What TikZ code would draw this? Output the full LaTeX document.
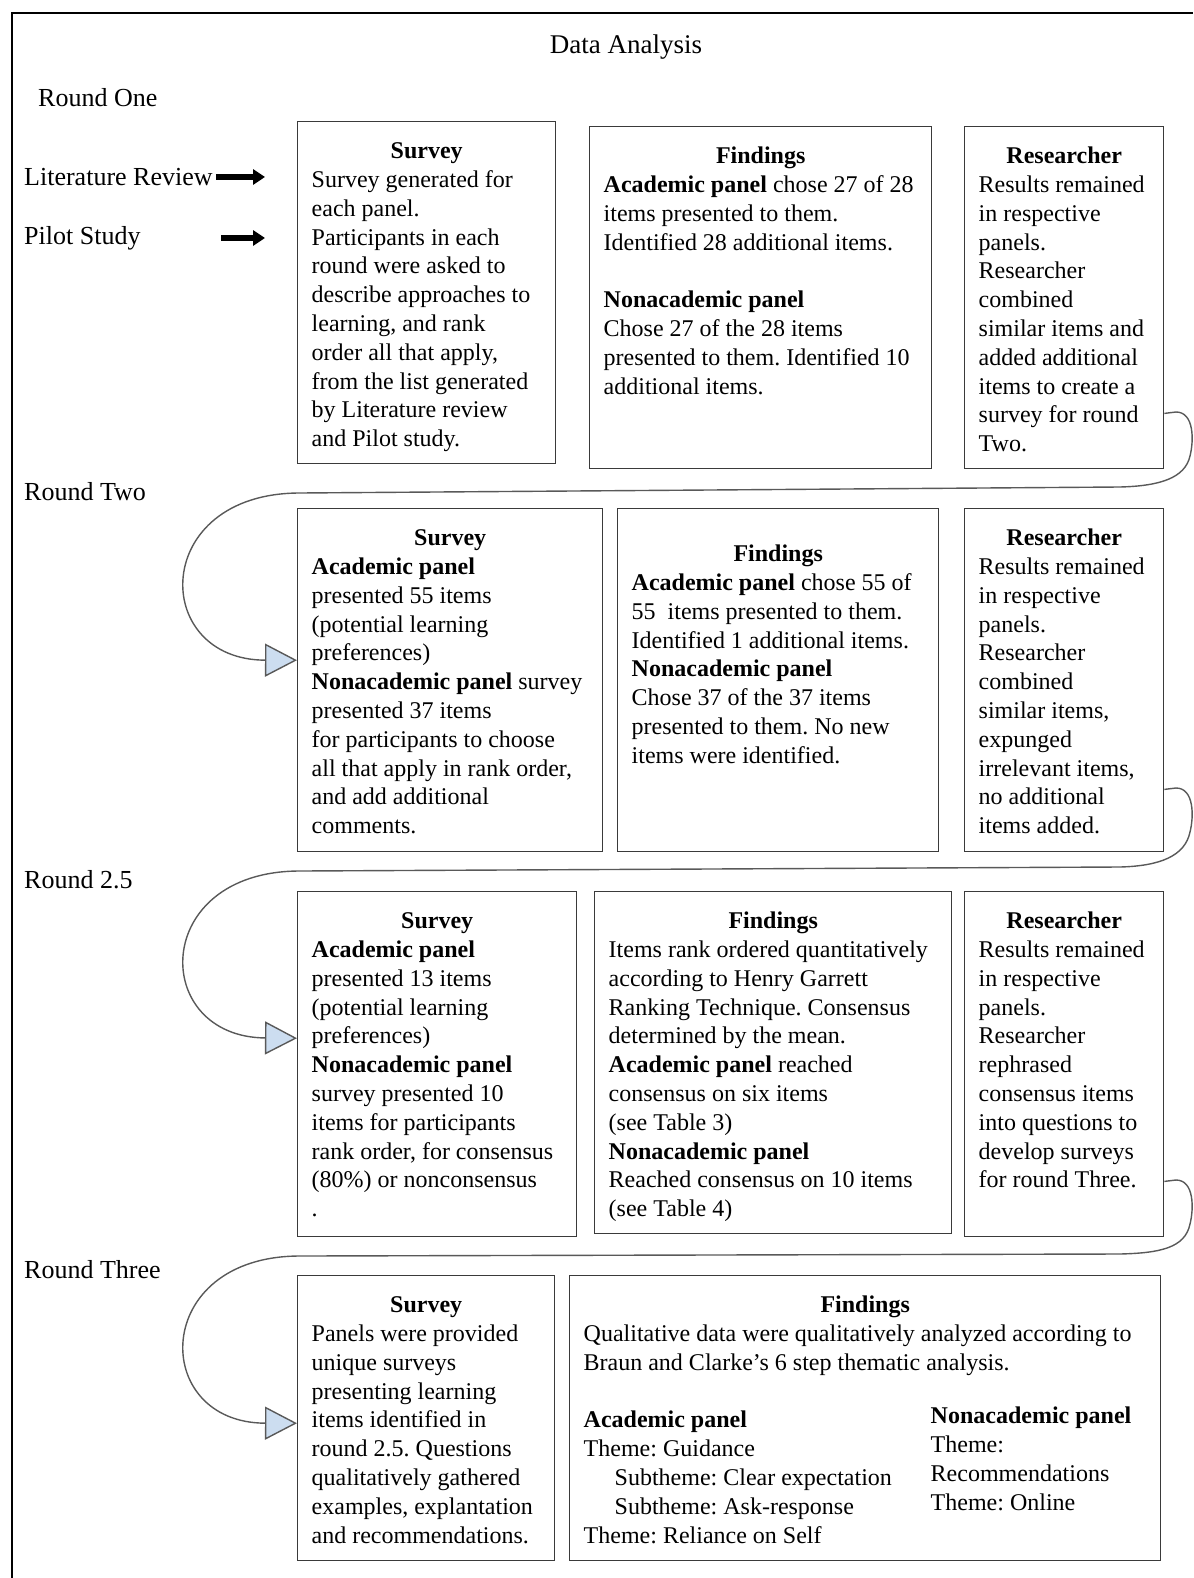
\documentclass[tikz,border=0pt]{standalone}
\usepackage{fontspec}
\setmainfont{Liberation Serif}
\usetikzlibrary{arrows.meta}
\frenchspacing

\definecolor{boxgray}{HTML}{3A3A3A}
\definecolor{linkgray}{HTML}{595959}
\definecolor{tipblue}{HTML}{CCDDF0}

\newcommand{\stagetext}[5][37pt]{%
    \parbox[t][#3][t]{#2}{\fontsize{24}{28.8}\selectfont
        \centering\rule{0pt}{#1}\textbf{#4}\par
        \raggedright\hspace*{14pt}\begin{tabular}[t]{@{}l@{}}#5\end{tabular}}}

\tikzset{
    stage/.style={draw=boxgray, line width=1.4pt, fill=white, inner sep=0pt, anchor=north west},
    link/.style={draw=linkgray, line width=1.4pt, -{Triangle[length=32pt,width=33pt,fill=tipblue]}},
    feed/.style={line width=5.5pt, -{Triangle[length=12pt,width=15pt]}},
    roundlbl/.style={anchor=west, inner sep=0pt, font=\fontsize{26}{30}\selectfont},
}

\begin{document}
\begin{tikzpicture}[x=1pt,y=-1pt]
    \useasboundingbox (0,0) rectangle (1193,1578);
    \draw[line width=1.8pt] (12,1578) -- (12,13) -- (1193,13);

    \node[font=\fontsize{27}{32}\selectfont] (title) at (626,47) {Data Analysis};
    \node[roundlbl] (r1) at (38,98) {Round One};
    \node[roundlbl] (lit) at (24,177) {Literature Review};
    \node[roundlbl] (pilot) at (24,238) {Pilot Study};
    \node[roundlbl] (r2) at (24,492) {Round Two};
    \node[roundlbl] (r25) at (24,880) {Round 2.5};
    \node[roundlbl] (r3) at (24,1270) {Round Three};

    % round one
    \node[stage] (sur1) at (297,121) {\stagetext{258pt}{342pt}{Survey}{Survey generated for\\ each panel.\\ Participants in each\\ round were asked to\\ describe approaches to\\ learning, and rank\\ order all that apply,\\ from the list generated\\ by Literature review\\ and Pilot study.}};
    \node[stage] (fin1) at (589,126) {\stagetext{342pt}{342pt}{Findings}{\textbf{Academic panel} chose 27 of 28\\ items presented to them.\\ Identified 28 additional items.\\ \\ \textbf{Nonacademic panel}\\ Chose 27 of the 28 items\\ presented to them. Identified 10\\ additional items.}};
    \node[stage] (res1) at (964,126) {\stagetext{199pt}{342pt}{Researcher}{Results remained\\ in respective\\ panels.\\ Researcher\\ combined\\ similar items and\\ added additional\\ items to create a\\ survey for round\\ Two.}};

    % round two
    \node[stage] (sur2) at (297,508) {\stagetext{305pt}{343pt}{Survey}{\textbf{Academic panel}\\ presented 55 items\\ (potential learning\\ preferences)\\ \textbf{Nonacademic panel} survey\\ presented 37 items\\ for participants to choose\\ all that apply in rank order,\\ and add additional\\ comments.}};
    \node[stage] (fin2) at (617,508) {\stagetext[53pt]{321pt}{343pt}{Findings}{\textbf{Academic panel} chose 55 of\\ 55\ \ items presented to them.\\ Identified 1 additional items.\\ \textbf{Nonacademic panel}\\ Chose 37 of the 37 items\\ presented to them. No new\\ items were identified.}};
    \node[stage] (res2) at (964,508) {\stagetext{199pt}{343pt}{Researcher}{Results remained\\ in respective\\ panels.\\ Researcher\\ combined\\ similar items,\\ expunged\\ irrelevant items,\\ no additional\\ items added.}};

    % round 2.5
    \node[stage] (sur3) at (297,891) {\stagetext{279pt}{345pt}{Survey}{\textbf{Academic panel}\\ presented 13 items\\ (potential learning\\ preferences)\\ \textbf{Nonacademic panel}\\ survey presented 10\\ items for participants\\ rank order, for consensus\\ (80\%) or nonconsensus\\ .}};
    \node[stage] (fin3) at (594,891) {\stagetext{357pt}{342pt}{Findings}{Items rank ordered quantitatively\\ according to Henry Garrett\\ Ranking Technique. Consensus\\ determined by the mean.\\ \textbf{Academic panel} reached\\ consensus on six items\\ (see Table 3)\\ \textbf{Nonacademic panel}\\ Reached consensus on 10 items\\ (see Table 4)}};
    \node[stage] (res3) at (964,891) {\stagetext{199pt}{345pt}{Researcher}{Results remained\\ in respective\\ panels.\\ Researcher\\ rephrased\\ consensus items\\ into questions to\\ develop surveys\\ for round Three.}};

    % round three
    \node[stage] (sur4) at (297,1275) {\stagetext{257pt}{285pt}{Survey}{Panels were provided\\ unique surveys\\ presenting learning\\ items identified in\\ round 2.5. Questions\\ qualitatively gathered\\ examples, explantation\\ and recommendations.}};
    \node[stage] (fin4) at (569,1275) {\stagetext{591pt}{285pt}{Findings}{Qualitative data were qualitatively analyzed according to\\ Braun and Clarke’s 6 step thematic analysis.\\ \\ \makebox[347pt][l]{\begin{tabular}[t]{@{}l@{}}\textbf{Academic panel}\\ Theme: Guidance\\ \hspace*{31pt}Subtheme: Clear expectation\\ \hspace*{31pt}Subtheme: Ask-response\\ Theme: Reliance on Self\end{tabular}}\raisebox{4pt}[0pt][0pt]{\begin{tabular}[t]{@{}l@{}}\textbf{Nonacademic panel}\\ Theme:\\ Recommendations\\ Theme: Online\end{tabular}}}};

    \draw[feed] ([xshift=3pt]lit.east) -- ([xshift=-32pt]sur1.west |- lit.east);
    \draw[feed] ([xshift=-76pt]sur1.west |- pilot.east) -- ([xshift=-32pt]sur1.west |- pilot.east);

    \draw[link] ([yshift=56pt]res1.south east) -- (1176,412)
        .. controls (1194,412) and (1194,440) .. (1190,456)
        .. controls (1185,478) and (1160,486) .. (1120,487)
        -- (300,493)
        .. controls (150,493) and (150,660) .. ([yshift=20pt]sur2.west);
    \draw[link] ([yshift=63pt]res2.south east) -- (1176,788)
        .. controls (1194,788) and (1194,816) .. (1190,832)
        .. controls (1185,856) and (1160,866) .. (1120,867)
        -- (300,871)
        .. controls (150,871) and (150,1037) .. ([yshift=26pt]sur3.west);
    \draw[link] ([yshift=56pt]res3.south east) -- (1176,1180)
        .. controls (1194,1180) and (1194,1208) .. (1190,1224)
        .. controls (1185,1248) and (1160,1253) .. (1120,1254)
        -- (300,1256)
        .. controls (150,1256) and (150,1423) .. ([yshift=-5pt]sur4.west);
\end{tikzpicture}
\end{document}
